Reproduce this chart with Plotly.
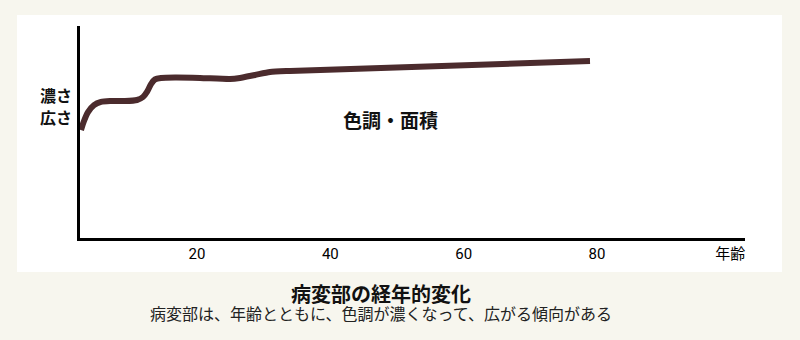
import plotly.graph_objects as go

# Data (age vs. colour depth / area, relative scale 0-100)
ages = [2.6, 3.05, 3.65, 4.55, 5.6, 6.95, 9.2, 11.0, 11.9, 12.5, 13.1, 13.7, 14.6, 16.7,
        20.45, 24.95, 26.45, 28.7, 30.95, 33.95, 78.95]
intensity = [50.9, 55.2, 59.4, 62.7, 64.2, 64.6, 64.6, 65.1, 66.5, 68.9, 72.6, 74.8, 75.5, 75.7,
             75.5, 75.0, 75.5, 76.9, 78.3, 78.8, 83.5]
tick_vals = [20, 40, 60, 80, 100]
tick_text = ["20", "40", "60", "80", "年齢"]

JP = "Noto Sans CJK JP"

fig = go.Figure()
fig.add_trace(go.Scatter(
    x=ages, y=intensity, mode="lines",
    line=dict(color="#4b2b2d", width=6, shape="spline", smoothing=0.6),
    hoverinfo="skip", showlegend=False,
))

# white panel behind chart
fig.add_shape(type="rect", xref="paper", yref="paper",
              x0=-0.0947, x1=1.0556, y0=-0.160, y1=1.052,
              fillcolor="white", line=dict(width=0), layer="below")

def note(x, y, text, size, color="#111", xref="paper", yref="paper"):
    fig.add_annotation(x=x, y=y, xref=xref, yref=yref, text=text, showarrow=False,
                       xanchor="center", yanchor="middle",
                       font=dict(family=JP, size=size, color=color))

note(48.95, 55.7, "<b>色調・面積</b>", 19, xref="x", yref="y")
note(-0.036, 0.675, "<b>濃さ</b>", 16)
note(-0.036, 0.571, "<b>広さ</b>", 16)
note(0.452, -0.300,
     "<b><span style='font-size:20px;color:#111'>病変部の経年的変化</span></b><br>"
     "<span style='font-size:16px;color:#222'>病変部は、年齢とともに、色調が濃くなって、広がる傾向がある</span>",
     14)

fig.update_layout(
    width=800, height=340,
    margin=dict(l=80, r=55, t=26, b=102),
    paper_bgcolor="#f7f6ee", plot_bgcolor="white",
    xaxis=dict(range=[2.45, 102.2], showgrid=False, zeroline=False,
               showline=True, linecolor="black", linewidth=3,
               tickvals=tick_vals, ticktext=tick_text, ticks="",
               tickfont=dict(family="Liberation Sans Narrow, Roboto, " + JP, size=15, color="#000")),
    yaxis=dict(range=[0, 100], showgrid=False, zeroline=False,
               showline=True, linecolor="black", linewidth=3,
               showticklabels=False, ticks=""),
)

fig.write_html("out.html")
